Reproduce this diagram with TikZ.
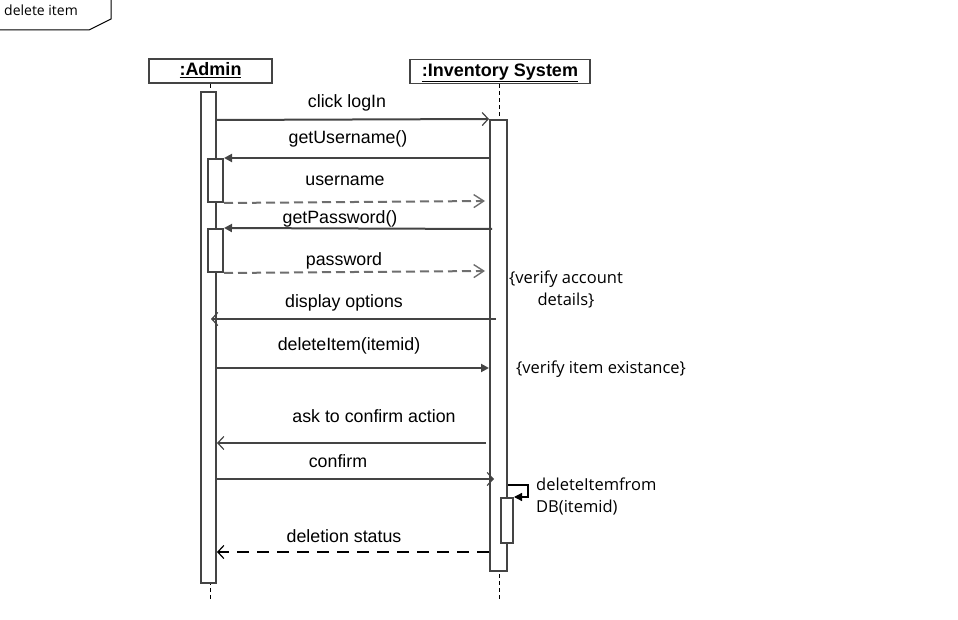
\documentclass[tikz,border=0pt]{standalone}
\usepackage{fontspec}
\setmainfont{Liberation Sans}
\newfontfamily\notefont{Open Sans}
\usetikzlibrary{arrows.meta}
\definecolor{lc}{RGB}{68,68,68}
\definecolor{dc}{RGB}{110,110,110}
\tikzset{
  lbl/.style={font=\fontsize{17.8}{20}\selectfont, inner sep=0, yshift=-1.5pt},
  note/.style={font=\notefont\fontsize{16.5}{22}\selectfont, inner sep=0},
  head/.style={draw=lc, line width=1.6, fill=white, minimum height=24, inner sep=0,
     text height=13, text depth=3,
     font=\fontsize{18}{20}\selectfont\bfseries},
  actbox/.style={draw=lc, line width=2, fill=white, inner sep=0, anchor=north west},
  life/.style={draw=black, line width=1, dash pattern=on 4 off 3},
  msg/.style={draw=lc, line width=2},
  filled/.style={-{Triangle[length=8,width=8]}},
  openarr/.style={-{Straight Barb[length=6,width=13,line width=1.2]}},
  ret/.style={draw=dc, line width=2, dash pattern=on 9 off 5, -{Straight Barb[length=10,width=13,line width=1.4]}},
}
\begin{document}
\begin{tikzpicture}[x=1pt,y=-1pt]
\useasboundingbox (0,0) rectangle (958,620);
% frame tag
\draw[line width=1] (111,-2) -- (111,19) -- (89,30) -- (0,30);
\node[font=\notefont\fontsize{14}{16}\selectfont, inner sep=0] (title) at (41,10) {delete item};
% headers
\node[head, minimum width=123] (admin) at (210.5,71) {\underline{:Admin}};
\node[head, minimum width=180] (inv) at (500,71.5) {\underline{:Inventory System}};
% lifelines
\coordinate (aEnd) at (210,600);
\coordinate (iEnd) at (499,600);
\draw[life] (admin.south -| 210,0) -- (aEnd);
\draw[life] (inv.south -| 499,0) -- (iEnd);
% activations
\node[actbox, minimum width=15, minimum height=491] (aAct) at (200,91) {};
\node[actbox, minimum width=17, minimum height=451] (iAct) at (489,119) {};
\node[actbox, minimum width=15, minimum height=43] (aAct1) at (207,158) {};
\node[actbox, minimum width=15, minimum height=43] (aAct2) at (207,228) {};
\node[actbox, minimum width=12, minimum height=45] (iAct2) at (500,497) {};
% messages
\draw[msg, openarr] (aAct.east |- 0,120) -- (iAct.north west);
\node[lbl] (m1) at (347,101) {click logIn};
\draw[msg, filled] (iAct.west |- 0,158) -- (aAct1.north east);
\node[lbl] (m2) at (348,137) {getUsername()};
\draw[ret] (aAct1.south east) -- (485,201);
\node[lbl] (m3) at (345,179) {username};
\draw[msg, filled] (492,229) -- (aAct2.north east);
\node[lbl] (m4) at (340,217) {getPassword()};
\draw[ret] (aAct2.south east) -- (485,271);
\node[lbl] (m5) at (344,259) {password};
\draw[msg, openarr] (496,319) -- (211,319);
\node[lbl] (m6) at (344,301) {display options};
\draw[msg, filled] (aAct.east |- 0,368) -- (iAct.west |- 0,368);
\node[lbl] (m7) at (349,344) {deleteItem(itemid)};
\draw[msg, openarr] (486,443) -- (aAct.east |- 0,443);
\node[lbl] (m8) at (374,415) {ask to confirm action};
\draw[msg, openarr] (217,479) -- (494,479);
\node[lbl] (m9) at (338,460) {confirm};
\draw[draw=black, line width=1.3, filled] (iAct.east |- 0,485) -- (528,485) -- (528,497) -- (iAct2.north east);
\draw[draw=black, line width=1.3, dash pattern=on 12 off 8, openarr] (489,552) -- (aAct.east |- 0,552);
\node[lbl] (m10) at (344,535) {deletion status};
% notes
\node[note, align=center] (n1) at (566,289.5) {\{verify account\\details\}};
\node[note] (n2) at (601,369) {\{verify item existance\}};
\node[note, align=left, anchor=west] (n3) at (536,496.5) {deleteItemfrom\\DB(itemid)};
\end{tikzpicture}
\end{document}
